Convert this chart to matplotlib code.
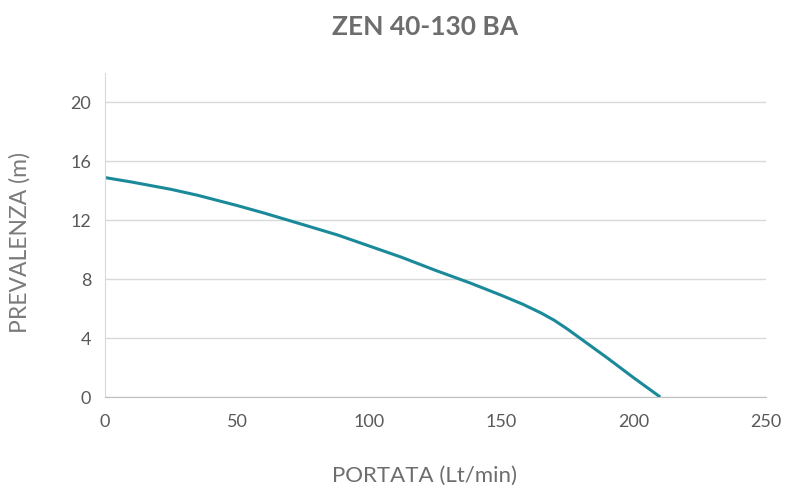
import matplotlib
matplotlib.use("Agg")
import matplotlib.pyplot as plt

# curva ZEN 40-130 BA
portata = [0, 10, 25, 35, 50, 60, 75, 88, 100, 112, 125, 138, 150, 158, 165, 170, 175, 180, 190, 200, 210]
prevalenza = [14.9, 14.6, 14.1, 13.7, 13.0, 12.5, 11.7, 11.0, 10.25, 9.5, 8.6, 7.75, 6.9, 6.3, 5.7, 5.2, 4.6, 3.95, 2.65, 1.3, 0.0]

x_ticks = [0, 50, 100, 150, 200, 250]
y_ticks = [0, 4, 8, 12, 16, 20]

plt.rcParams['font.family'] = ['Lato', 'DejaVu Sans']
grigio = '#595959'

fig = plt.figure(figsize=(7.85, 4.91), dpi=100)
ax = fig.add_axes([0.1338, 0.1914, 0.8420, 0.6599])

ax.plot(portata, prevalenza, color='#1a8a9a', linewidth=2.2, solid_capstyle='butt')

ax.set_xlim(0, 250)
ax.set_ylim(0, 22)
ax.set_xticks(x_ticks)
ax.set_yticks(y_ticks)
ax.grid(axis='y', color='#d9d9d9', linewidth=1)
ax.set_axisbelow(True)

for s in ['top', 'right']:
    ax.spines[s].set_visible(False)
ax.spines['left'].set_color('#d9d9d9')
ax.spines['bottom'].set_color('#bfbfbf')
ax.tick_params(length=0, labelsize=13, colors=grigio)
ax.tick_params(axis='x', pad=12)
ax.tick_params(axis='y', pad=10)

ax.set_xlabel('PORTATA (Lt/min)', fontsize=16, color='#6d6d6d')
ax.xaxis.set_label_coords(0.483, -0.213)
ax.set_ylabel('PREVALENZA (m)', fontsize=16.5, color='#7a7a7a')
ax.yaxis.set_label_coords(-0.113, 0.478)
fig.text(0.541, 0.945, 'ZEN 40-130 BA', fontsize=19, fontweight='bold', color='#6d6d6d',
         ha='center', va='center')

fig.savefig('out.png', dpi=100)
